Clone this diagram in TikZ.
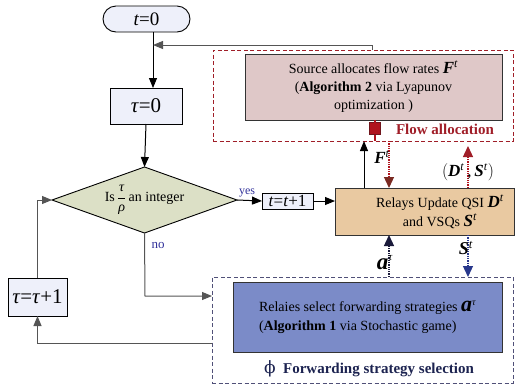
\documentclass[tikz,border=0pt]{standalone}
\usepackage{fontspec}
\setmainfont{Liberation Serif}
\newfontfamily\phifont{DejaVu Serif}
\usetikzlibrary{arrows.meta,shapes.geometric,calc}

\definecolor{boxblue}{HTML}{EEF0FA}
\definecolor{diagreen}{HTML}{DCE0C6}
\definecolor{srcpink}{HTML}{DFC8C8}
\definecolor{relaytan}{HTML}{E9C9A1}
\definecolor{fwdblue}{HTML}{7B8BC8}
\definecolor{flowred}{HTML}{A01E28}
\definecolor{flagred}{HTML}{B0141E}
\definecolor{tipbrown}{HTML}{7A2A22}
\definecolor{grpnavy}{HTML}{505078}
\definecolor{labnavy}{HTML}{1C2350}
\definecolor{yesnavy}{HTML}{30309A}
\definecolor{dotnavy}{HTML}{1A1A3A}
\definecolor{dotblue}{HTML}{28388C}
\definecolor{fbgray}{HTML}{555555}

\newcommand\fsz[2]{\fontsize{#1}{#2}\selectfont}
\newcommand\bvar[2]{\textbf{\textit{#1}}\textsuperscript{\textit{#2}}}

\begin{document}
\begin{tikzpicture}[x=1pt,y=-1pt,
  every node/.style={inner sep=0pt,outer sep=0pt},
  lightbox/.style={draw=black,line width=0.9pt,fill=boxblue},
  procbox/.style={draw=black!80,line width=1pt},
  grpbox/.style={dash pattern=on 4pt off 2.5pt,line width=0.9pt},
  arr/.style={-{Triangle[length=10pt,width=8pt]},line width=1pt},
  dotarr/.style={densely dotted,line width=1.3pt},
  bodytext/.style={font=\fsz{14}{18},align=center}]
\useasboundingbox (0,0) rectangle (515,389);

% start and counters
\node[lightbox,rounded corners=13pt,minimum width=87pt,minimum height=26pt,font=\fsz{19}{20}] (start) at (146.5,19) {\textit{t}=0};
\node[lightbox,minimum width=72pt,minimum height=36pt,font=\fsz{21}{22}] (tau0) at (146,106) {\textit{τ}=0};
\node[lightbox,minimum width=59pt,minimum height=38pt,font=\fsz{21}{22}] (tauinc) at (37.5,297) {\textit{τ}=\textit{τ}+1};
\node[lightbox,minimum width=51pt,minimum height=16pt,font=\fsz{17}{18}] (tinc) at (287.5,201) {\textit{t}=\textit{t}+1};

% decision
\node[diamond,draw=black,line width=0.9pt,fill=diagreen,aspect=2.8,minimum width=185pt,minimum height=66pt,font=\fsz{14}{16}] (dia) at (144.5,200)
  {Is\,$\displaystyle\frac{\mbox{\textit{τ}}}{\mbox{\textit{ρ}}}$\,an integer};

% flow allocation group
\node[grpbox,draw=flowred,minimum width=300pt,minimum height=91pt] (flowgrp) at (363,95.5) {};
\node[procbox,fill=srcpink,minimum width=257pt,minimum height=66pt,bodytext] (src) at (373.5,87)
  {Source allocates flow rates {\fsz{17}{18}\bvar{F}{t}}\\(\textbf{Algorithm 2} via Lyapunov\\optimization )};
\node[font=\fsz{15}{17}\bfseries,text=flowred] (flowlab) at (445,129) {Flow allocation};
\node[draw=flowred!70!black,line width=0.6pt,fill=flagred,minimum width=11pt,minimum height=12pt] (flag) at (375,128.5) {};
\draw[flagred,line width=1.2pt] (src.south -| flag) -- (flag.north);
\draw[flagred,line width=1.2pt] (flag.south) -- (flowgrp.south -| flag);

% relay update
\node[procbox,fill=relaytan,minimum width=179pt,minimum height=47pt] (relay) at (424.5,211.5) {};
\node[bodytext,font=\fsz{14}{19}] (relaytxt) at (440,211.5)
  {Relays Update QSI {\fsz{17}{19}\bvar{D}{t}}\\and VSQs {\fsz{17}{19}\bvar{S}{t}}};

% forwarding strategy group
\node[grpbox,draw=grpnavy,minimum width=301pt,minimum height=106pt] (fwdgrp) at (362.5,330) {};
\node[procbox,fill=fwdblue,minimum width=269pt,minimum height=70pt] (fwd) at (367.5,317) {};
\node[font=\fsz{14}{19},align=left,anchor=west] (fwdtxt) at (259,317)
  {Relaies select forwarding strategies {\fsz{22}{19}\textbf{\textit{a}}}\textsuperscript{\textit{τ}}\\(\textbf{Algorithm 1} via Stochastic game)};
\node[font=\fsz{15}{17}\bfseries,text=labnavy] (fwdlab) at (369,369) {{\phifont\mdseries\fsz{17}{17}ϕ}\ \ Forwarding strategy selection};

% main flow
\coordinate (jx) at (153,45);
\coordinate (fbx) at (372,45);
\draw[arr] (start.south -| jx) -- (tau0.north -| jx);
\draw[arr,fbgray] (flowgrp.north -| fbx) -- (fbx) -- (jx);
\draw[arr] (tau0.south) -- (dia.north);
\draw[arr] (dia.east) -- (tinc.west);
\node[font=\fsz{12}{12},text=yesnavy] (yes) at (247,193) {yes};
\draw[arr] (tinc.east) -- (relay.west |- tinc);

\coordinate (nocorner) at (145,296);
\draw[arr,fbgray] (dia.south) -- (nocorner) -- (fwdgrp.west |- nocorner);
\node[font=\fsz{13}{13},text=yesnavy] (nolab) at (158,245) {no};

\coordinate (backcorner) at (37.5,343);
\draw[arr,fbgray] (fwdgrp.west |- backcorner) -- (backcorner) -- (tauinc.south);
\draw[arr,fbgray] (tauinc.north) |- (dia.west);

% exchanges between relays and the two stages
\coordinate (xA) at (364,0);
\coordinate (xF) at (389,0);
\coordinate (xD) at (468,0);
\draw[arr] (relay.north -| xA) -- (flowgrp.south -| xA);
\draw[dotarr,flagred,-{Triangle[length=11pt,width=10pt,color=tipbrown]}] (flowgrp.south -| xF) -- (relay.north -| xF);
\node[font=\fsz{17}{17}] (flab) at (382,157) {\bvar{F}{t}};
\draw[dotarr,flagred,shorten >=5pt,-{Triangle[length=11pt,width=10pt,color=flowred]}] (relay.north -| xD) -- (flowgrp.south -| xD);
\node[font=\fsz{17}{17}] (dslab) at (468,172) {$\Bigl(\mbox{\bvar{D}{t}\,,\,\bvar{S}{t}}\Bigr)$};

\draw[dotarr,dotnavy,-{Triangle[length=11pt,width=10pt]}] (fwdgrp.north -| xF) -- (relay.south -| xF);
\node[font=\fsz{23}{22}] (alab) at (385,263) {\textbf{\textit{a}}\textsuperscript{\fsz{11}{11}\textit{τ}}};
\draw[dotarr,dotblue,-{Triangle[length=11pt,width=10pt]}] (relay.south -| xD) -- (fwdgrp.north -| xD);
\node[font=\fsz{18}{17}] (slab) at (466,248) {\bvar{S}{t}};
\end{tikzpicture}
\end{document}
